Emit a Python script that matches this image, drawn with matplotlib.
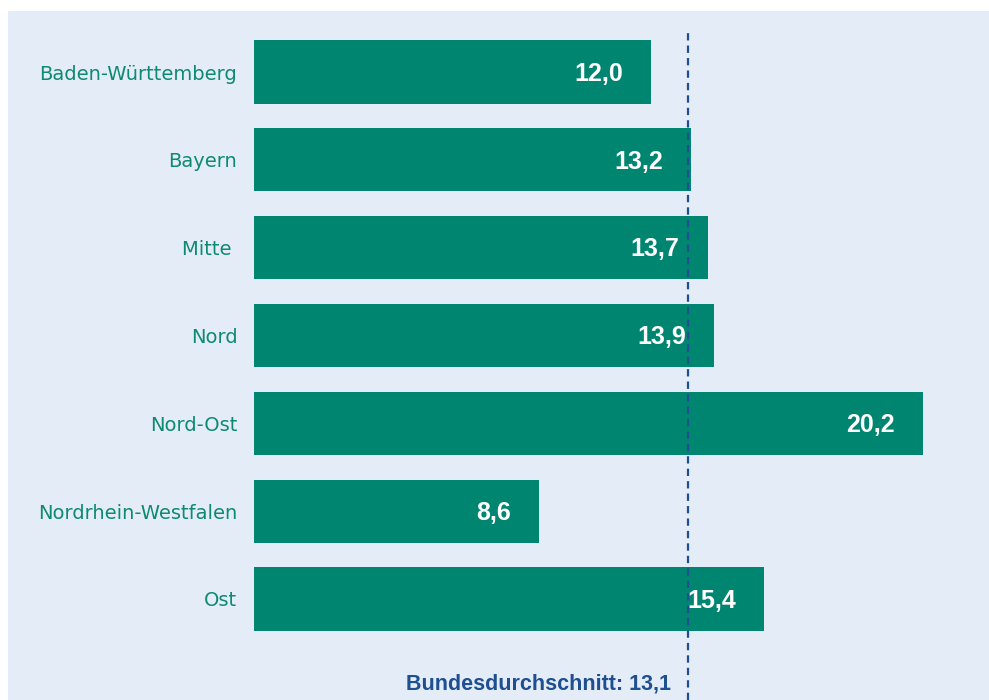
import matplotlib
matplotlib.use("Agg")
import matplotlib.pyplot as plt
from matplotlib.patches import Rectangle

# Werte aus der Grafik
regionen = [
    "Baden-Württemberg",
    "Bayern",
    "Mitte ",
    "Nord",
    "Nord-Ost",
    "Nordrhein-Westfalen",
    "Ost",
]
werte = [12.0, 13.2, 13.7, 13.9, 20.2, 8.6, 15.4]
wert_labels = ["12,0", "13,2", "13,7", "13,9", "20,2", "8,6", "15,4"]
bundesschnitt = 13.1
schnitt_label = "Bundesdurchschnitt: 13,1"

BAR_COLOR = "#008571"
PANEL_COLOR = "#e4ecf7"
LABEL_COLOR = "#0e8a72"
LINE_COLOR = "#1d4f91"

W, H = 989, 700


def main():
    fig = plt.figure(figsize=(W / 100, H / 100), dpi=100)
    fig.patch.set_facecolor("white")

    # hellblaues Panel hinter dem Diagramm
    panel = Rectangle((8 / W, 0), 1 - 8 / W, (H - 11) / H,
                      transform=fig.transFigure, facecolor=PANEL_COLOR,
                      edgecolor="none", zorder=-5)
    fig.add_artist(panel)

    ax = fig.add_axes([254 / W, 0, 1 - 254 / W, (H - 11) / H])
    ax.set_facecolor("none")
    ax.set_zorder(1)

    pos = list(range(len(regionen)))
    ax.barh(pos, werte, height=0.72, color=BAR_COLOR, zorder=2)

    for p, v, lab in zip(pos, werte, wert_labels):
        ax.text(v - 0.85, p + 0.02, lab, ha="right", va="center", color="white",
                fontsize=18, fontweight="bold", family="Liberation Sans",
                zorder=4)

    ax.set_xlim(0, (W - 254) / 33.12)
    ax.set_ylim(7.15, -0.695)

    ax.axvline(bundesschnitt, ymin=0, ymax=(H - 30) / (H - 11),
               color=LINE_COLOR, lw=1.6, linestyle=(0, (3.3, 2.3)), zorder=3)
    ax.text(bundesschnitt - 0.5, 0.023, schnitt_label,
            transform=ax.get_xaxis_transform(), ha="right", va="center",
            color=LINE_COLOR, fontsize=15.5, fontweight="bold",
            family="Liberation Sans")

    ax.set_yticks(pos)
    ax.set_yticklabels(regionen, color=LABEL_COLOR, fontsize=14,
                       family="DejaVu Sans")
    ax.tick_params(axis="y", length=0, pad=12)
    ax.set_xticks([])
    for s in ax.spines.values():
        s.set_visible(False)

    fig.savefig("out.png", dpi=100)


if __name__ == "__main__":
    main()
